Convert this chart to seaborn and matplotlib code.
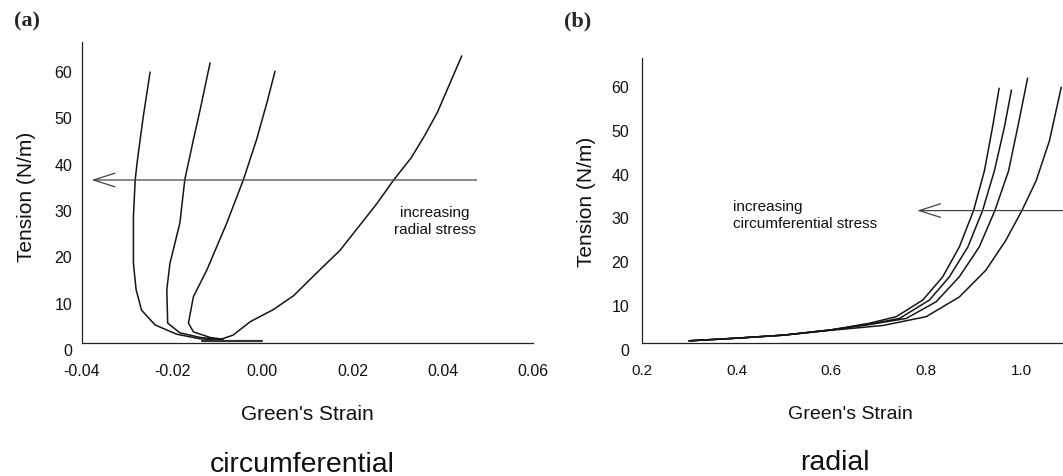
import numpy as np
import pandas as pd
import matplotlib
matplotlib.use("Agg")
import matplotlib.pyplot as plt
import seaborn as sns
from matplotlib.transforms import ScaledTranslation

# ---------------- data: (a) circumferential ----------------
circ1_strain = [-0.0094, -0.0138, -0.0190, -0.0238, -0.0268, -0.0280, -0.0286, -0.0286, -0.0282, -0.0277, -0.0264, -0.0249]
circ1_tension = [0.6, 0.9, 1.9, 3.9, 7.1, 11.5, 17.2, 27.3, 35.3, 39.6, 49.0, 58.5]
circ2_strain = [-0.0094, -0.0138, -0.0183, -0.0210, -0.0212, -0.0205, -0.0183, -0.0172, -0.0153, -0.0138, -0.0116]
circ2_tension = [0.8, 1.2, 2.2, 4.3, 11.5, 17.2, 25.9, 35.3, 43.9, 50.4, 60.5]
circ3_strain = [-0.0087, -0.0116, -0.0153, -0.0164, -0.0153, -0.0123, -0.0079, -0.0042, -0.0013, 0.0010, 0.0028]
circ3_tension = [0.8, 1.2, 2.4, 4.3, 10.0, 15.8, 25.9, 35.3, 43.9, 51.9, 58.7]
circ4_strain = [-0.0101, -0.0065, -0.0048, -0.0027, 0.0024, 0.0069, 0.0120, 0.0172, 0.0253, 0.0291, 0.0330, 0.0361, 0.0388, 0.0442]
circ4_tension = [0.5, 1.7, 3.0, 4.6, 7.2, 10.2, 15.1, 20.0, 30.0, 35.2, 40.0, 45.0, 49.8, 62.0]
circ_base_strain = [-0.0133, 0.0]
circ_base_tension = [0.4, 0.4]

# ---------------- data: (b) radial ----------------
rad1_strain = [0.30, 0.40, 0.50, 0.60, 0.68, 0.737, 0.793, 0.835, 0.870, 0.900, 0.923, 0.940, 0.954]
rad1_tension = [0.5, 1.1, 1.8, 3.0, 4.5, 6.0, 9.8, 15.1, 21.9, 30.2, 39.3, 49.2, 58.1]
rad2_strain = [0.30, 0.40, 0.50, 0.60, 0.68, 0.744, 0.807, 0.849, 0.888, 0.919, 0.944, 0.965, 0.980]
rad2_tension = [0.5, 1.1, 1.8, 3.0, 4.3, 5.6, 9.8, 15.1, 21.9, 30.2, 39.3, 49.2, 57.7]
rad3_strain = [0.30, 0.40, 0.50, 0.60, 0.68, 0.758, 0.821, 0.870, 0.912, 0.945, 0.974, 0.996, 1.014]
rad3_tension = [0.5, 1.1, 1.8, 3.0, 4.2, 5.6, 9.4, 15.1, 21.9, 30.2, 39.3, 50.7, 60.4]
rad4_strain = [0.30, 0.40, 0.50, 0.60, 0.709, 0.800, 0.870, 0.926, 0.968, 1.002, 1.032, 1.060, 1.085]
rad4_tension = [0.5, 1.1, 1.8, 2.9, 4.0, 6.0, 10.5, 16.6, 23.4, 30.2, 37.0, 46.1, 58.3]

a_xticks = [-0.04, -0.02, 0.00, 0.02, 0.04, 0.06]
a_xticklabels = ["-0.04", "-0.02", "0.00", "0.02", "0.04", "0.06"]
b_xticks = [0.2, 0.4, 0.6, 0.8, 1.0]
b_xticklabels = ["0.2", "0.4", "0.6", "0.8", "1.0"]
yticks = [0, 10, 20, 30, 40, 50, 60]

def long_df(pairs):
    frames = []
    for name, xs, ys in pairs:
        frames.append(pd.DataFrame({"strain": xs, "tension": ys, "curve": name}))
    return pd.concat(frames, ignore_index=True)

df_a = long_df([("c1", circ1_strain, circ1_tension), ("c2", circ2_strain, circ2_tension),
                ("c3", circ3_strain, circ3_tension), ("c4", circ4_strain, circ4_tension)])
df_a_base = pd.DataFrame({"strain": circ_base_strain, "tension": circ_base_tension})
df_b = long_df([("r1", rad1_strain, rad1_tension), ("r2", rad2_strain, rad2_tension),
                ("r3", rad3_strain, rad3_tension), ("r4", rad4_strain, rad4_tension)])

sns.set_theme(style="white")
plt.rcParams["font.family"] = ["Liberation Sans", "DejaVu Sans"]

W, H = 1063, 476
fig = plt.figure(figsize=(W / 100, H / 100), dpi=100)

def px_ax(x0, x1, ytop, ybot):
    return fig.add_axes([x0 / W, 1 - ybot / H, (x1 - x0) / W, (ybot - ytop) / H])

axA = px_ax(82, 533, 42, 343)
axB = px_ax(641.7, 1063, 58, 343)

line_color = "#151515"
sns.lineplot(data=df_a, x="strain", y="tension", units="curve", estimator=None, sort=False,
             color=line_color, lw=1.1, ax=axA)
sns.lineplot(data=df_a_base, x="strain", y="tension", estimator=None, sort=False,
             color="#333333", lw=1.6, ax=axA)
sns.lineplot(data=df_b, x="strain", y="tension", units="curve", estimator=None, sort=False,
             color=line_color, lw=1.1, ax=axB)

axA.set_xlim(-0.04, 0.06)
axA.set_ylim(0, 65)
axB.set_xlim(0.2, 1.0887)
axB.set_ylim(0, 65)

for ax, xt, xtl, fs_x, ypad in [(axA, a_xticks, a_xticklabels, 11.5, 4.5), (axB, b_xticks, b_xticklabels, 11, 6.5)]:
    ax.set_xticks(xt)
    ax.set_xticklabels(xtl)
    ax.set_yticks(yticks)
    ax.set_yticklabels([str(v) for v in yticks])
    for s in ["top", "right"]:
        ax.spines[s].set_visible(False)
    for s in ["left", "bottom"]:
        ax.spines[s].set_linewidth(0.9)
        ax.spines[s].set_color("#222222")
    ax.tick_params(axis="x", direction="in", length=3, width=0.8, color="#222222",
                   pad=15, labelsize=fs_x, labelcolor="#111111")
    ax.tick_params(axis="y", direction="out", length=2.5, width=0.8, color="#222222",
                   pad=ypad, labelsize=11.5, labelcolor="#111111")
    off = ScaledTranslation(0, -5 / 72, fig.dpi_scale_trans)
    for lab in ax.get_yticklabels():
        lab.set_transform(lab.get_transform() + off)
    ax.set_facecolor("white")

# axis labels
axA.set_xlabel("Green's Strain", fontsize=15, color="#111111")
axA.set_ylabel("Tension (N/m)", fontsize=15, color="#111111")
axB.set_xlabel("Green's Strain", fontsize=14, color="#111111")
axB.set_ylabel("Tension (N/m)", fontsize=15, color="#111111")
axA.xaxis.label.set_va("baseline")
axB.xaxis.label.set_va("baseline")
axA.xaxis.set_label_coords(0.5, (343 - 420) / 301)
axB.xaxis.set_label_coords((850 - 641.7) / 421.3, (343 - 419) / 285)
axA.yaxis.label.set_va("center")
axB.yaxis.label.set_va("center")
axA.yaxis.set_label_coords((26 - 82) / 451, (343 - 197) / 301)
axB.yaxis.set_label_coords((587 - 641.7) / 421.3, (343 - 202) / 285)

# arrows
arrow_kw = dict(arrowstyle="->,head_length=1.1,head_width=0.35", lw=0.9, color="#444444",
                mutation_scale=14, shrinkA=0, shrinkB=0)
axA.annotate("", xy=(-0.0379, 35.2), xytext=(0.0475, 35.2), arrowprops=arrow_kw, annotation_clip=False)
axB.annotate("", xy=(0.781, 30.2), xytext=(1.0887, 30.2), arrowprops=arrow_kw, annotation_clip=False)

axA.text(0.0383, 26.2, "increasing\nradial stress", ha="center", va="center", multialignment="center",
         fontsize=11, linespacing=1.3, color="#111111")
axB.text(0.392, 29.0, "increasing\ncircumferential stress", ha="left", va="center", multialignment="left",
         fontsize=11, linespacing=1.26, color="#111111")

# panel labels and captions
fig.text(27 / W, 1 - 21 / H, "(a)", ha="center", va="center", fontsize=16, fontweight="bold",
         family=["Liberation Serif", "DejaVu Serif"])
fig.text(578 / W, 1 - 21 / H, "(b)", ha="center", va="center", fontsize=16, fontweight="bold",
         family=["Liberation Serif", "DejaVu Serif"])
fig.text(302 / W, 1 - 471.5 / H, "circumferential", ha="center", va="baseline", fontsize=20.5, color="#111111")
fig.text(835 / W, 1 - 470.5 / H, "radial", ha="center", va="baseline", fontsize=20.5, color="#111111")

fig.savefig("out.png", dpi=100, facecolor="white")
